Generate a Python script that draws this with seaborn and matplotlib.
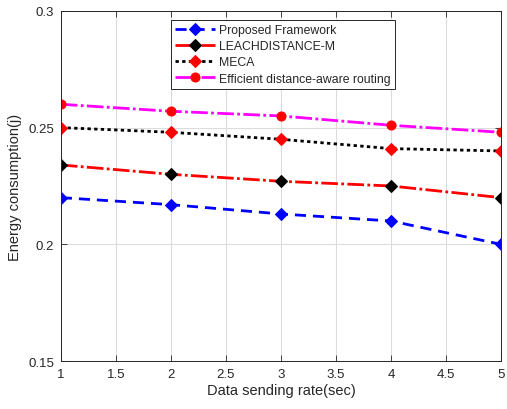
import matplotlib
matplotlib.use("Agg")
import matplotlib.pyplot as plt
import seaborn as sns
import pandas as pd

# -------------------- Data --------------------

rate = [1, 2, 3, 4, 5]
proposed = [0.220, 0.217, 0.213, 0.210, 0.200]
leach = [0.234, 0.230, 0.227, 0.225, 0.220]
meca = [0.250, 0.248, 0.245, 0.241, 0.240]
efficient = [0.260, 0.257, 0.255, 0.251, 0.248]

series_names = [
    "Proposed Framework",
    "LEACHDISTANCE-M",
    "MECA",
    "Efficient distance-aware routing",
]

# -------------------- Plot --------------------

sns.set_theme(style="ticks")
plt.rcParams["font.family"] = ["Liberation Sans", "DejaVu Sans"]

df = pd.DataFrame({
    "rate": rate,
    series_names[0]: proposed,
    series_names[1]: leach,
    series_names[2]: meca,
    series_names[3]: efficient,
})

styles = {
    series_names[0]: dict(color="#0000ff", linestyle=(0, (4, 2.5)), marker="D",
                          markersize=6, markerfacecolor="#0000ff", markeredgecolor="#0000ff"),
    series_names[1]: dict(color="#ff0000", linestyle=(0, (6, 1.2, 1, 1.2)), marker="D",
                          markersize=6, markerfacecolor="black", markeredgecolor="black"),
    series_names[2]: dict(color="black", linestyle=(0, (1.2, 1.2)), marker="D",
                          markersize=6, markerfacecolor="#ff0000", markeredgecolor="#ff0000"),
    series_names[3]: dict(color="#ff00ff", linestyle=(0, (6, 1.2, 1, 1.2)), marker="o",
                          markersize=6.5, markerfacecolor="#ff0000", markeredgecolor="#ff0000"),
}

fig = plt.figure(figsize=(5.07, 4.10), dpi=100)
ax = fig.add_axes([0.120, 0.117, 0.868, 0.854])

for name in series_names:
    sns.lineplot(data=df, x="rate", y=name, ax=ax, label=name,
                 linewidth=2, **styles[name])

ax.set_xlim(1, 5)
ax.set_ylim(0.15, 0.3)
ax.set_xticks([1, 1.5, 2, 2.5, 3, 3.5, 4, 4.5, 5])
ax.set_xticklabels(["1", "1.5", "2", "2.5", "3", "3.5", "4", "4.5", "5"])
ax.set_yticks([0.15, 0.2, 0.25, 0.3])
ax.set_yticklabels(["0.15", "0.2", "0.25", "0.3"])

ax.grid(True, color="#dcdcdc", linewidth=0.8)
ax.set_axisbelow(True)
ax.tick_params(direction="in", length=4, width=0.6, colors="#262626",
               labelsize=9.5, top=True, right=True, pad=5)
for sp in ax.spines.values():
    sp.set_visible(True)
    sp.set_color("#262626")
    sp.set_linewidth(0.7)

ax.set_xlabel("Data sending rate(sec)", fontsize=10.5, color="#262626", labelpad=2)
ax.set_ylabel("Energy consumption(j)", fontsize=10.5, color="#262626", labelpad=4)

leg = ax.legend(loc="upper left", bbox_to_anchor=(0.25, 0.975), fontsize=8.8,
                handlelength=3.3, handletextpad=0.3, borderpad=0.35,
                labelspacing=0.35, fancybox=False, framealpha=1,
                edgecolor="#262626", borderaxespad=0)
leg.get_frame().set_linewidth(0.7)

fig.savefig("out.png", dpi=100)
